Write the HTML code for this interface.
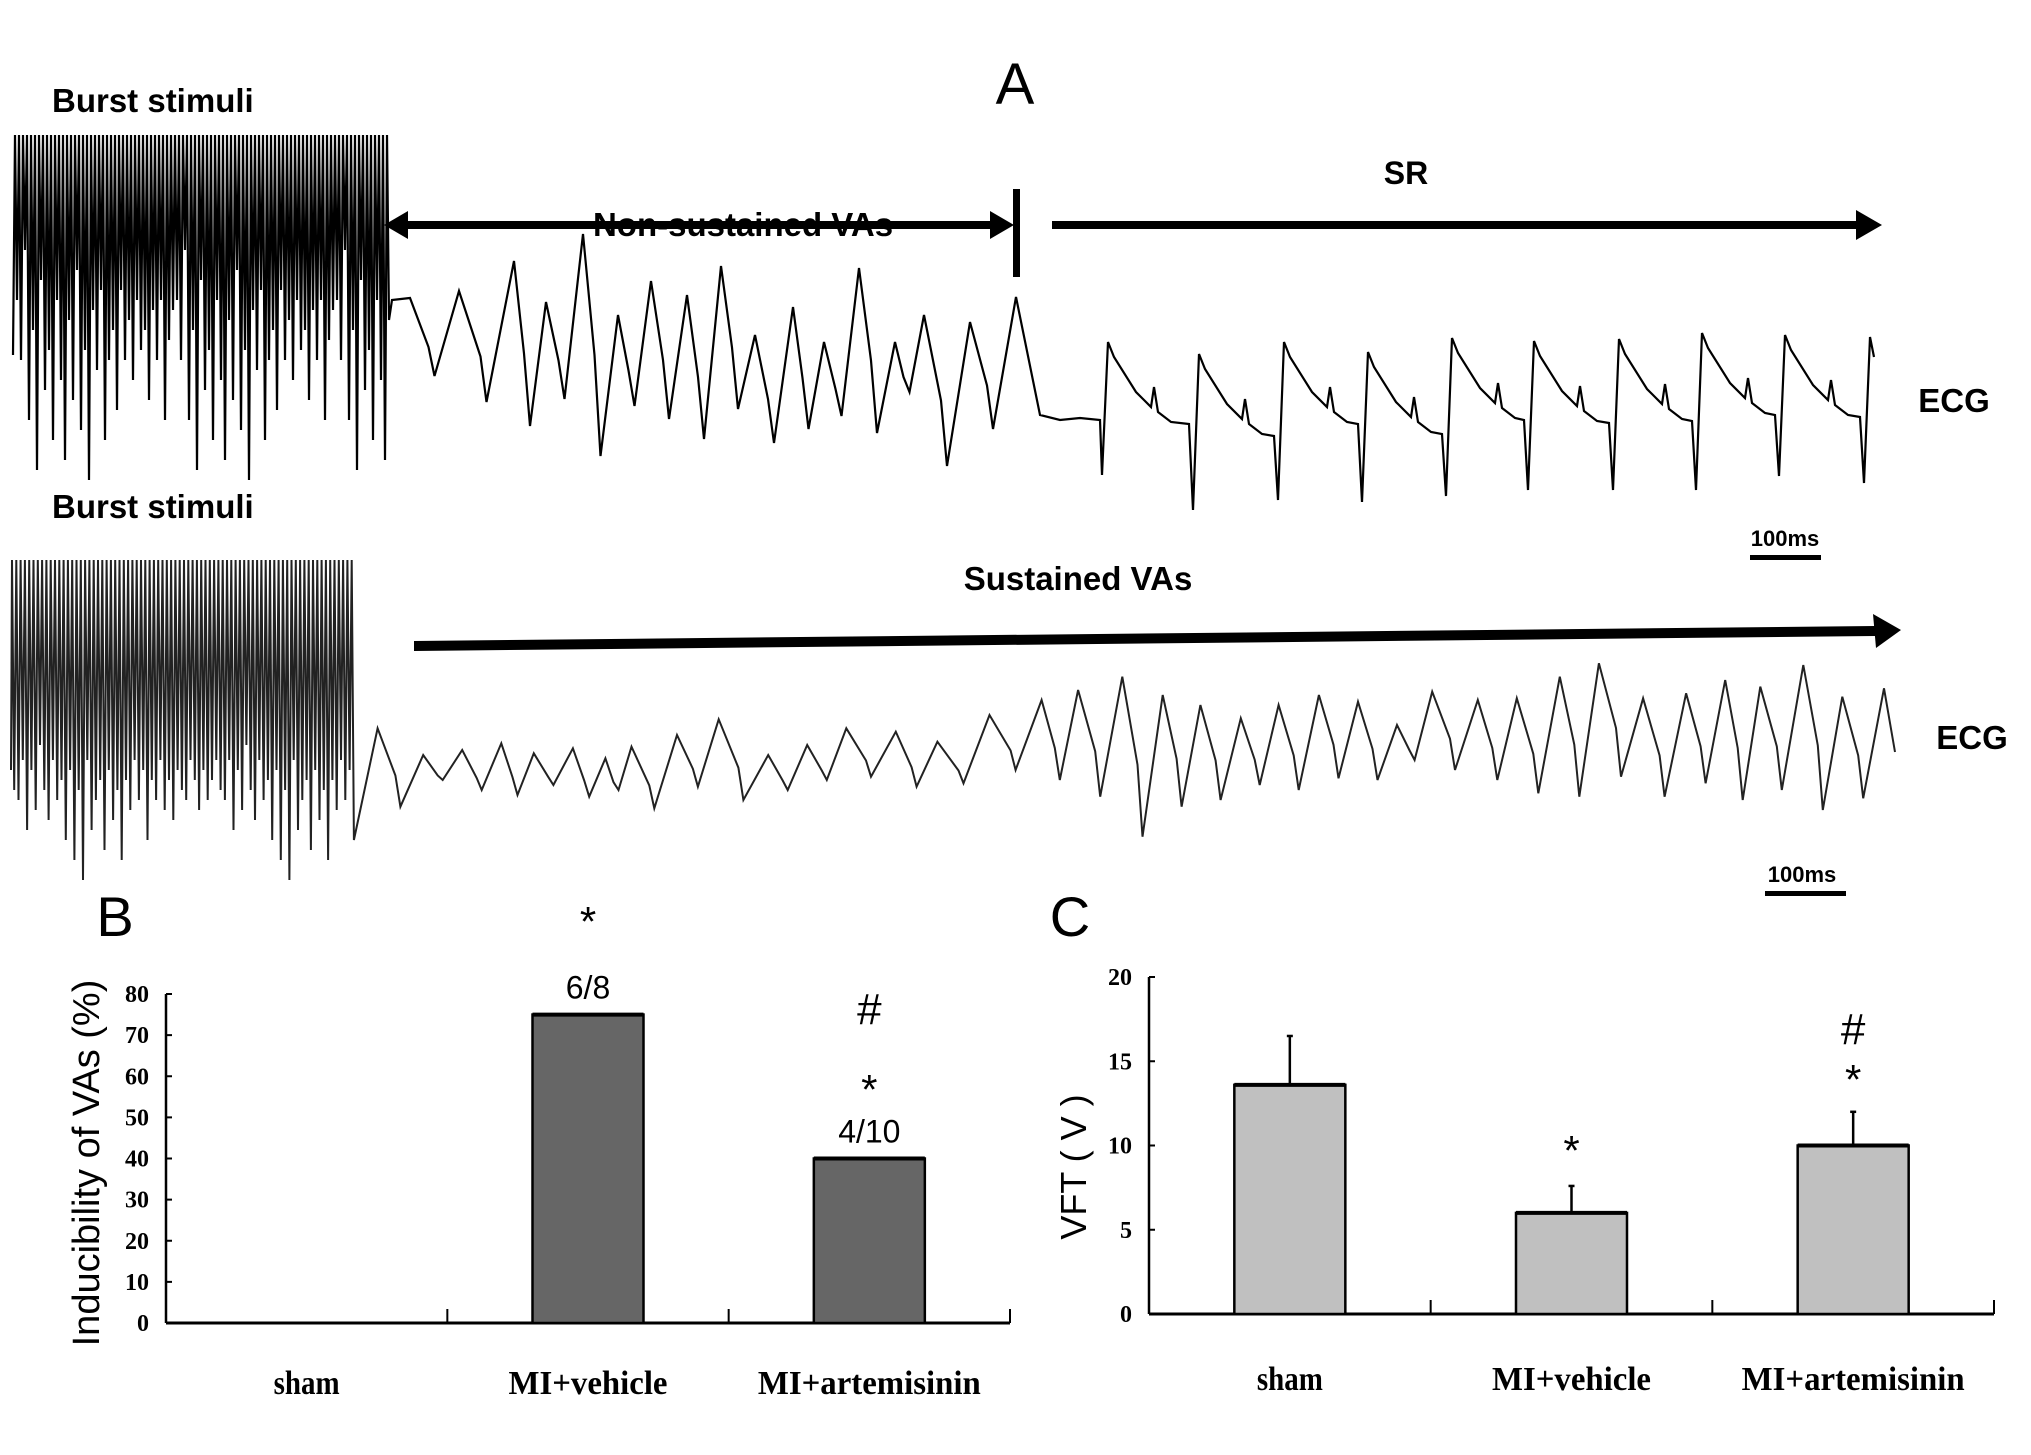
<!DOCTYPE html>
<html><head><meta charset="utf-8"><style>
html,body{margin:0;padding:0;background:#fff;}
svg{display:block;}
text{font-family:"Liberation Sans",sans-serif;}
.cat{font-family:"Liberation Serif",serif;font-weight:bold;font-size:34px;}
.tk{font-family:"Liberation Serif",serif;font-weight:bold;font-size:24px;}
</style></head><body>
<svg id="fig" width="2031" height="1455" viewBox="0 0 2031 1455" xmlns="http://www.w3.org/2000/svg">
<g id="panelA">
<text x="1015" y="104" font-size="58" text-anchor="middle">A</text>
<text x="52" y="112" font-size="33" font-weight="bold">Burst stimuli</text>
<text x="52" y="518" font-size="33" font-weight="bold">Burst stimuli</text>
<g>
<line x1="400" y1="225" x2="998" y2="225" stroke="#000" stroke-width="8"/>
<polygon points="384,225 408,211 408,239" fill="#000"/>
<polygon points="1014,225 990,211 990,239" fill="#000"/>
</g>
<text x="743" y="236" font-size="33" font-weight="bold" text-anchor="middle" fill="#000" stroke="#fff" stroke-width="0">Non-sustained VAs</text>
<text x="1406" y="184" font-size="32" font-weight="bold" text-anchor="middle">SR</text>
<text x="1078" y="590" font-size="33" font-weight="bold" text-anchor="middle">Sustained VAs</text>
<text x="1954" y="412" font-size="33" font-weight="bold" text-anchor="middle">ECG</text>
<text x="1972" y="749" font-size="33" font-weight="bold" text-anchor="middle">ECG</text>
<text x="1785" y="546" font-size="22" font-weight="bold" text-anchor="middle">100ms</text>
<rect x="1750" y="555" width="71" height="5" fill="#000"/>
<text x="1802" y="882" font-size="22" font-weight="bold" text-anchor="middle">100ms</text>
<rect x="1765" y="891" width="81" height="5" fill="#000"/>
<rect x="1013" y="189" width="7" height="88" fill="#000"/>
<g>
<line x1="1052" y1="225" x2="1860" y2="225" stroke="#000" stroke-width="8"/>
<polygon points="1882,225 1856,210 1856,240" fill="#000"/>
</g>
<g>
<polygon points="414,641 1875,626 1875,636 414,651" fill="#000"/>
<polygon points="1901,630 1873,614 1876,648" fill="#000"/>
</g>
<path id="ecgTop" fill="none" stroke="#000" stroke-width="2.2"/>
<path id="ecgBot" fill="none" stroke="#222" stroke-width="2"/>
</g>
<g id="panelB">
<text x="115" y="936" font-size="56" text-anchor="middle">B</text>
<text transform="translate(99,1163) rotate(-90)" font-size="38" text-anchor="middle">Inducibility of VAs (%)</text>
</g>
<g id="panelC">
<text x="1070" y="936" font-size="56" text-anchor="middle">C</text>
<text transform="translate(1086,1167) rotate(-90)" font-size="36" text-anchor="middle">VFT ( V )</text>
</g>
</svg>
<script>
// ---- Panel B data ----
const catsB = ["sham","MI+vehicle","MI+artemisinin"];
const valsB = [0, 75, 40];
const ratioB = ["", "6/8", "4/10"];
const ticksB = [0,10,20,30,40,50,60,70,80];
// ---- Panel C data ----
const catsC = ["sham","MI+vehicle","MI+artemisinin"];
const valsC = [13.6, 6.0, 10.0];
const errC = [2.9, 1.6, 2.0];
const ticksC = [0,5,10,15,20];
// ---- ECG trace landmarks (original image coords) ----
const burstTopBottoms = [300,360,250,420,330,470,280,390,350,440,300,380,460,320,400,270,430,350,480,310,370,290,440,360,330,410,290,360,320,380,300,350,330,400,310,360,300,420,340,310];
const vaTopX = [410,459,514,546,583,618,651,687,721,755,793,824,859,895,924,970,1016];
const vaTopY = [298,291,261,302,234,315,281,295,266,335,307,342,268,342,315,322,297];
const vaBotY = [376,402,426,399,456,406,419,439,409,443,429,416,433,392,466,429];
const srX = [1106,1197,1282,1366,1450,1532,1617,1700,1783,1868];
const srTopY = [342,354,342,352,338,341,339,333,335,337];
const srBotY = [475,510,500,502,496,490,490,490,476,483];
const burstBotBottoms = [790,800,760,830,770,810,745,790,820,760,800,780,840,770,860,790,880,760,830,800,780,850,770,820,790,860,780,810,760,800,770,840,780,800,760,810,780,820,770,790,800,760,780,810,770,800,780,760];
const susTopXd = [290,325,355,385,410,440,465,485,520,552,590,620,650,688,720,760,800,828,862,893,922,953,982,1013,1043,1073,1100,1135,1165,1198,1228,1262,1295,1325,1352,1385,1415,1447];
const susTopZ = [565,645,630,610,640,625,655,620,585,538,645,615,565,575,605,525,480,450,410,465,495,535,495,465,485,555,455,480,475,410,370,475,460,420,440,375,470,445];
const susBotZ = [800,720,750,765,735,770,750,805,740,780,750,720,710,740,730,690,720,770,890,800,780,735,750,715,720,660,690,720,760,770,710,770,730,780,750,810,775];

const NS="http://www.w3.org/2000/svg";
function mk(tag, attrs, parent){const e=document.createElementNS(NS,tag);for(const k in attrs)e.setAttribute(k,attrs[k]);parent.appendChild(e);return e;}

// ---- top ECG ----
(function(){
  let d="M13,355";
  let x=15;
  for(let i=0;i<94;i++){
    const b=burstTopBottoms[i%burstTopBottoms.length];
    d+=` L${x.toFixed(1)},135 L${(x+2).toFixed(1)},${b}`;
    x+=4;
  }
  d+=` L392,300`;
  for(let i=0;i<vaTopX.length;i++){
    d+=` L${vaTopX[i]},${vaTopY[i]}`;
    if(i<vaBotY.length){
      const mx=(vaTopX[i]+vaTopX[i+1])/2;
      d+=` L${mx-6},${(vaTopY[i]+vaBotY[i])/2+10} L${mx},${vaBotY[i]}`;
    }
  }
  d+=` L1040,415 L1060,420 L1080,418 L1100,420`;
  for(let i=0;i<srX.length;i++){
    const sx=srX[i];
    if(i<srX.length-1){
      d+=` L${sx-4},${srBotY[i]} L${sx+2},${srTopY[i]} L${sx+8},${srTopY[i]+15} L${sx+30},${srTopY[i]+50} L${sx+45},${srTopY[i]+65} L${sx+48},${srTopY[i]+45} L${sx+52},${srTopY[i]+70}`;
      d+=` L${sx+65},${srTopY[i]+80} L${srX[i+1]-8},${srTopY[i]+82}`;
    } else {
      d+=` L${sx-4},${srBotY[i]} L${sx+2},${srTopY[i]} L${sx+6},${srTopY[i]+20}`;
    }
  }
  document.getElementById('ecgTop').setAttribute('d',d);
})();

// ---- bottom ECG ----
(function(){
  let d="M11,770";
  let x=12;
  for(let i=0;i<80;i++){
    const b=burstBotBottoms[i%burstBotBottoms.length];
    d+=` L${x.toFixed(1)},560 L${(x+2.2).toFixed(1)},${b}`;
    x+=4.3;
  }
  for(let i=0;i<susTopXd.length;i++){
    const tx=susTopXd[i]*1.302, ty=540+susTopZ[i]/3;
    d+=` L${tx.toFixed(1)},${ty.toFixed(1)}`;
    if(i<susBotZ.length){
      const nx=susTopXd[i+1]*1.302;
      const mx=(tx+nx)/2, by=540+susBotZ[i]/3;
      d+=` L${(mx-5).toFixed(1)},${((ty+by)/2+8).toFixed(1)} L${mx.toFixed(1)},${by.toFixed(1)}`;
    }
  }
  d+=` L1895,752`;
  document.getElementById('ecgBot').setAttribute('d',d);
})();

// ---- bar chart helper ----
function barChart(g, o){
  const y=v=>o.y0-(v-o.vmin)/(o.vmax-o.vmin)*(o.y0-o.y1);
  const band=(o.xr-o.xl)/o.cats.length;
  const xc=i=>o.xl+band*(i+0.5);
  const ax=mk('line',{x1:o.xl,y1:o.y0,x2:o.xl,y2:o.y1,stroke:'#000','stroke-width':2.5},g);
  
  
  const bx=mk('line',{x1:o.xl,y1:o.y0,x2:o.xr,y2:o.y0,stroke:'#000','stroke-width':3},g);
  
  
  o.ticks.forEach(t=>{
    const yy=y(t);
    const tl=mk('line',{x1:o.xl,y1:yy,x2:o.xl+6,y2:yy,stroke:'#000','stroke-width':2},g);
    
    
    const tx=mk('text',{x:o.xl-17,y:yy+8,'text-anchor':'end',class:'tk'},g);
    tx.textContent=t;
    
    
  });
  for(let i=1;i<=o.cats.length;i++){
    const xx=o.xl+band*i;
    const cl=mk('line',{x1:xx,y1:o.y0,x2:xx,y2:o.y0-14,stroke:'#000','stroke-width':2},g);
    
    
  }
  o.cats.forEach((c,i)=>{
    const cx=xc(i), bw=o.bw;
    if(o.vals[i]>0){
      if(o.err){
        const ey=y(o.vals[i]+o.err[i]);
        const el=mk('line',{x1:cx,y1:y(o.vals[i]),x2:cx,y2:ey,stroke:'#000','stroke-width':2.5},g);
        
        
        const ec=mk('line',{x1:cx-3,y1:ey,x2:cx+3,y2:ey,stroke:'#000','stroke-width':2.5},g);
        
        
      }
      const r=mk('rect',{x:cx-bw/2,y:y(o.vals[i]),width:bw,height:o.y0-y(o.vals[i]),fill:o.fill,stroke:'#000','stroke-width':2.5},g);
      
      
      mk('line',{x1:cx-bw/2,y1:y(o.vals[i]),x2:cx+bw/2,y2:y(o.vals[i]),stroke:'#000','stroke-width':4},g);
    }
    const lab=mk('text',{x:cx,y:o.labY,'text-anchor':'middle',class:'cat',textLength:o.labW[i],lengthAdjust:'spacingAndGlyphs'},g);
    lab.textContent=c;
    
    
  });
  return {y,xc};
}

const gB=document.getElementById('panelB');
const B=barChart(gB,{id:'b',cats:catsB,vals:valsB,ticks:ticksB,vmin:0,vmax:80,xl:166,xr:1010,y0:1323,y1:994,bw:111,fill:'#666',labY:1394,labW:[66,159,223]});
const gC=document.getElementById('panelC');
const C=barChart(gC,{id:'c',cats:catsC,vals:valsC,err:errC,ticks:ticksC,vmin:0,vmax:20,xl:1149,xr:1994,y0:1314,y1:977,bw:111,fill:'#c0c0c0',labY:1390,labW:[66,159,223]});

// annotations B
ratioB.forEach((r,i)=>{
  if(!r) return;
  const t=mk('text',{x:B.xc(i),y:B.y(valsB[i])-16,'text-anchor':'middle','font-size':32},gB);
  t.textContent=r;
  
  
});
[[1,'*',936],[2,'#',1024],[2,'*',1104]].forEach(a=>{
  const t=mk('text',{x:B.xc(a[0]),y:a[2],'text-anchor':'middle','font-size':a[1]=='#'?44:42,'font-family':'Liberation Serif'},gB);
  t.textContent=a[1];
  
  
});
[[1,'*',1165],[2,'#',1044],[2,'*',1094]].forEach(a=>{
  const t=mk('text',{x:C.xc(a[0]),y:a[2],'text-anchor':'middle','font-size':a[1]=='#'?44:42,'font-family':'Liberation Serif'},gC);
  t.textContent=a[1];
  
  
});
</script>
</body></html>
